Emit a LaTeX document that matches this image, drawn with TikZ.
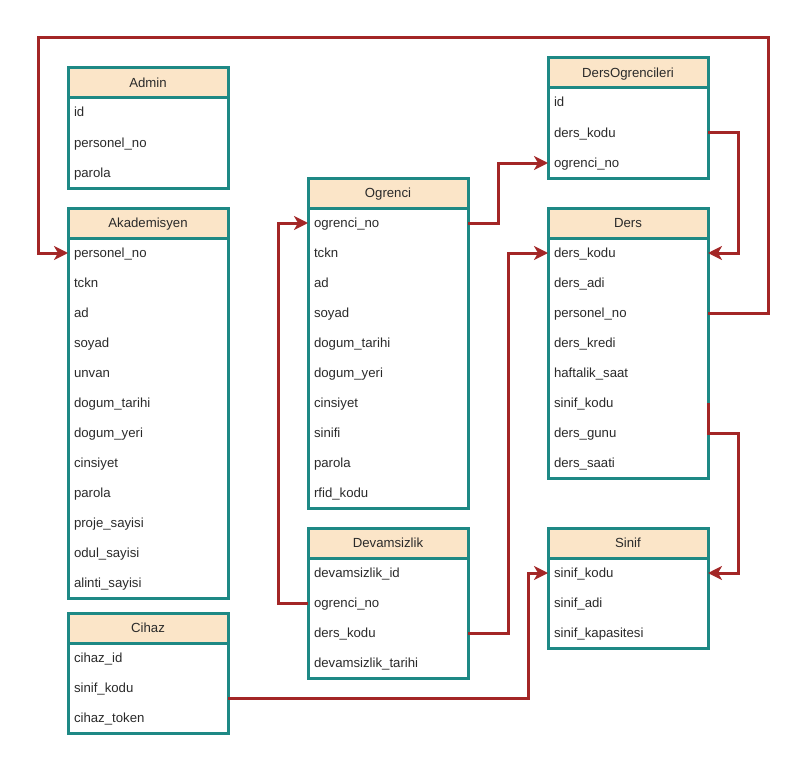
\documentclass[tikz,border=0pt]{standalone}
\usepackage{fontspec}
\setmainfont{Liberation Sans}
\usetikzlibrary{calc}
\usetikzlibrary{positioning}
\usetikzlibrary{arrows.meta}

\definecolor{tblteal}{HTML}{1E8985}
\definecolor{tblpeach}{HTML}{FBE5C8}
\definecolor{fkred}{HTML}{A32626}
\definecolor{txtgray}{HTML}{2A2A2A}

\tikzset{
  tblhead/.style={draw=tblteal, fill=tblpeach, line width=3pt, outer sep=0pt,
    minimum width=160pt, minimum height=30pt, anchor=north west, text=txtgray,
    text height=10.5pt, text depth=1.5pt},
  tblrow/.style={outer sep=0pt, inner xsep=6pt, text width=148pt, align=left,
    minimum height=30pt, anchor=north west, text=txtgray,
    text height=9.5pt, text depth=1.5pt},
  tblline/.style={draw=tblteal, line width=3pt},
  fk/.style={draw=fkred, line width=3pt, -{Stealth[length=14pt,width=14pt,inset=4pt]}}
}

% name, x, y, title, last row, rows
\newcommand{\dbtable}[6]{%
  \node [tblhead] (#1) at (#2,#3) {#4};
  \foreach \fld [count=\i] in {#6}
    \node [tblrow] (#1-\i) at ($(#1.south west)+(0,{(\i-1)*30})$) {\fld};
  \draw [tblline] (#1.north west) rectangle (#1-#5.south east);
}

\begin{document}
\begin{tikzpicture}[x=1pt, y=-1pt, font=\fontsize{13.2}{15}\selectfont]
  \useasboundingbox (0,0) rectangle (808,765);

  \dbtable{admin}{68}{68}{Admin}{3}{id, personel\_no, parola}
  \dbtable{akad}{68}{208}{Akademisyen}{12}{personel\_no, tckn, ad, soyad, unvan,
    dogum\_tarihi, dogum\_yeri, cinsiyet, parola, proje\_sayisi, odul\_sayisi, alinti\_sayisi}
  \dbtable{cihaz}{68}{613}{Cihaz}{3}{cihaz\_id, sinif\_kodu, cihaz\_token}
  \dbtable{ogr}{308}{178}{Ogrenci}{10}{ogrenci\_no, tckn, ad, soyad, dogum\_tarihi,
    dogum\_yeri, cinsiyet, sinifi, parola, rfid\_kodu}
  \dbtable{dev}{308}{528}{Devamsizlik}{4}{devamsizlik\_id, ogrenci\_no, ders\_kodu,
    devamsizlik\_tarihi}
  \dbtable{dogr}{548}{58}{DersOgrencileri}{3}{id, ders\_kodu, ogrenci\_no}
  \dbtable{ders}{548}{208}{Ders}{8}{ders\_kodu, ders\_adi, personel\_no, ders\_kredi,
    haftalik\_saat, sinif\_kodu, ders\_gunu, ders\_saati}
  \dbtable{sinif}{548}{528}{Sinif}{3}{sinif\_kodu, sinif\_adi, sinif\_kapasitesi}

  % foreign keys
  \draw [fk] (ders-3.east) -- ++(60,0) -- ++(0,-275) -| ($(akad-1.west)+(-30,0)$) -- (akad-1.west);
  \draw [fk] (ogr-1.east) -- ++(30,0) |- (dogr-3.west);
  \draw [fk] (dogr-2.east) -- ++(30,0) |- (ders-1.east);
  \draw [fk] (dev-2.west) -- ++(-30,0) |- (ogr-1.west);
  \draw [fk] (dev-3.east) -- ++(40,0) |- (ders-1.west);
  \draw [fk] (ders-6.east) -- ++(0,30) -- ++(30,0) |- (sinif-1.east);
  \draw [fk] ($(cihaz-2.east)+(0,10)$) -- ++(300,0) |- (sinif-1.west);
\end{tikzpicture}
\end{document}
